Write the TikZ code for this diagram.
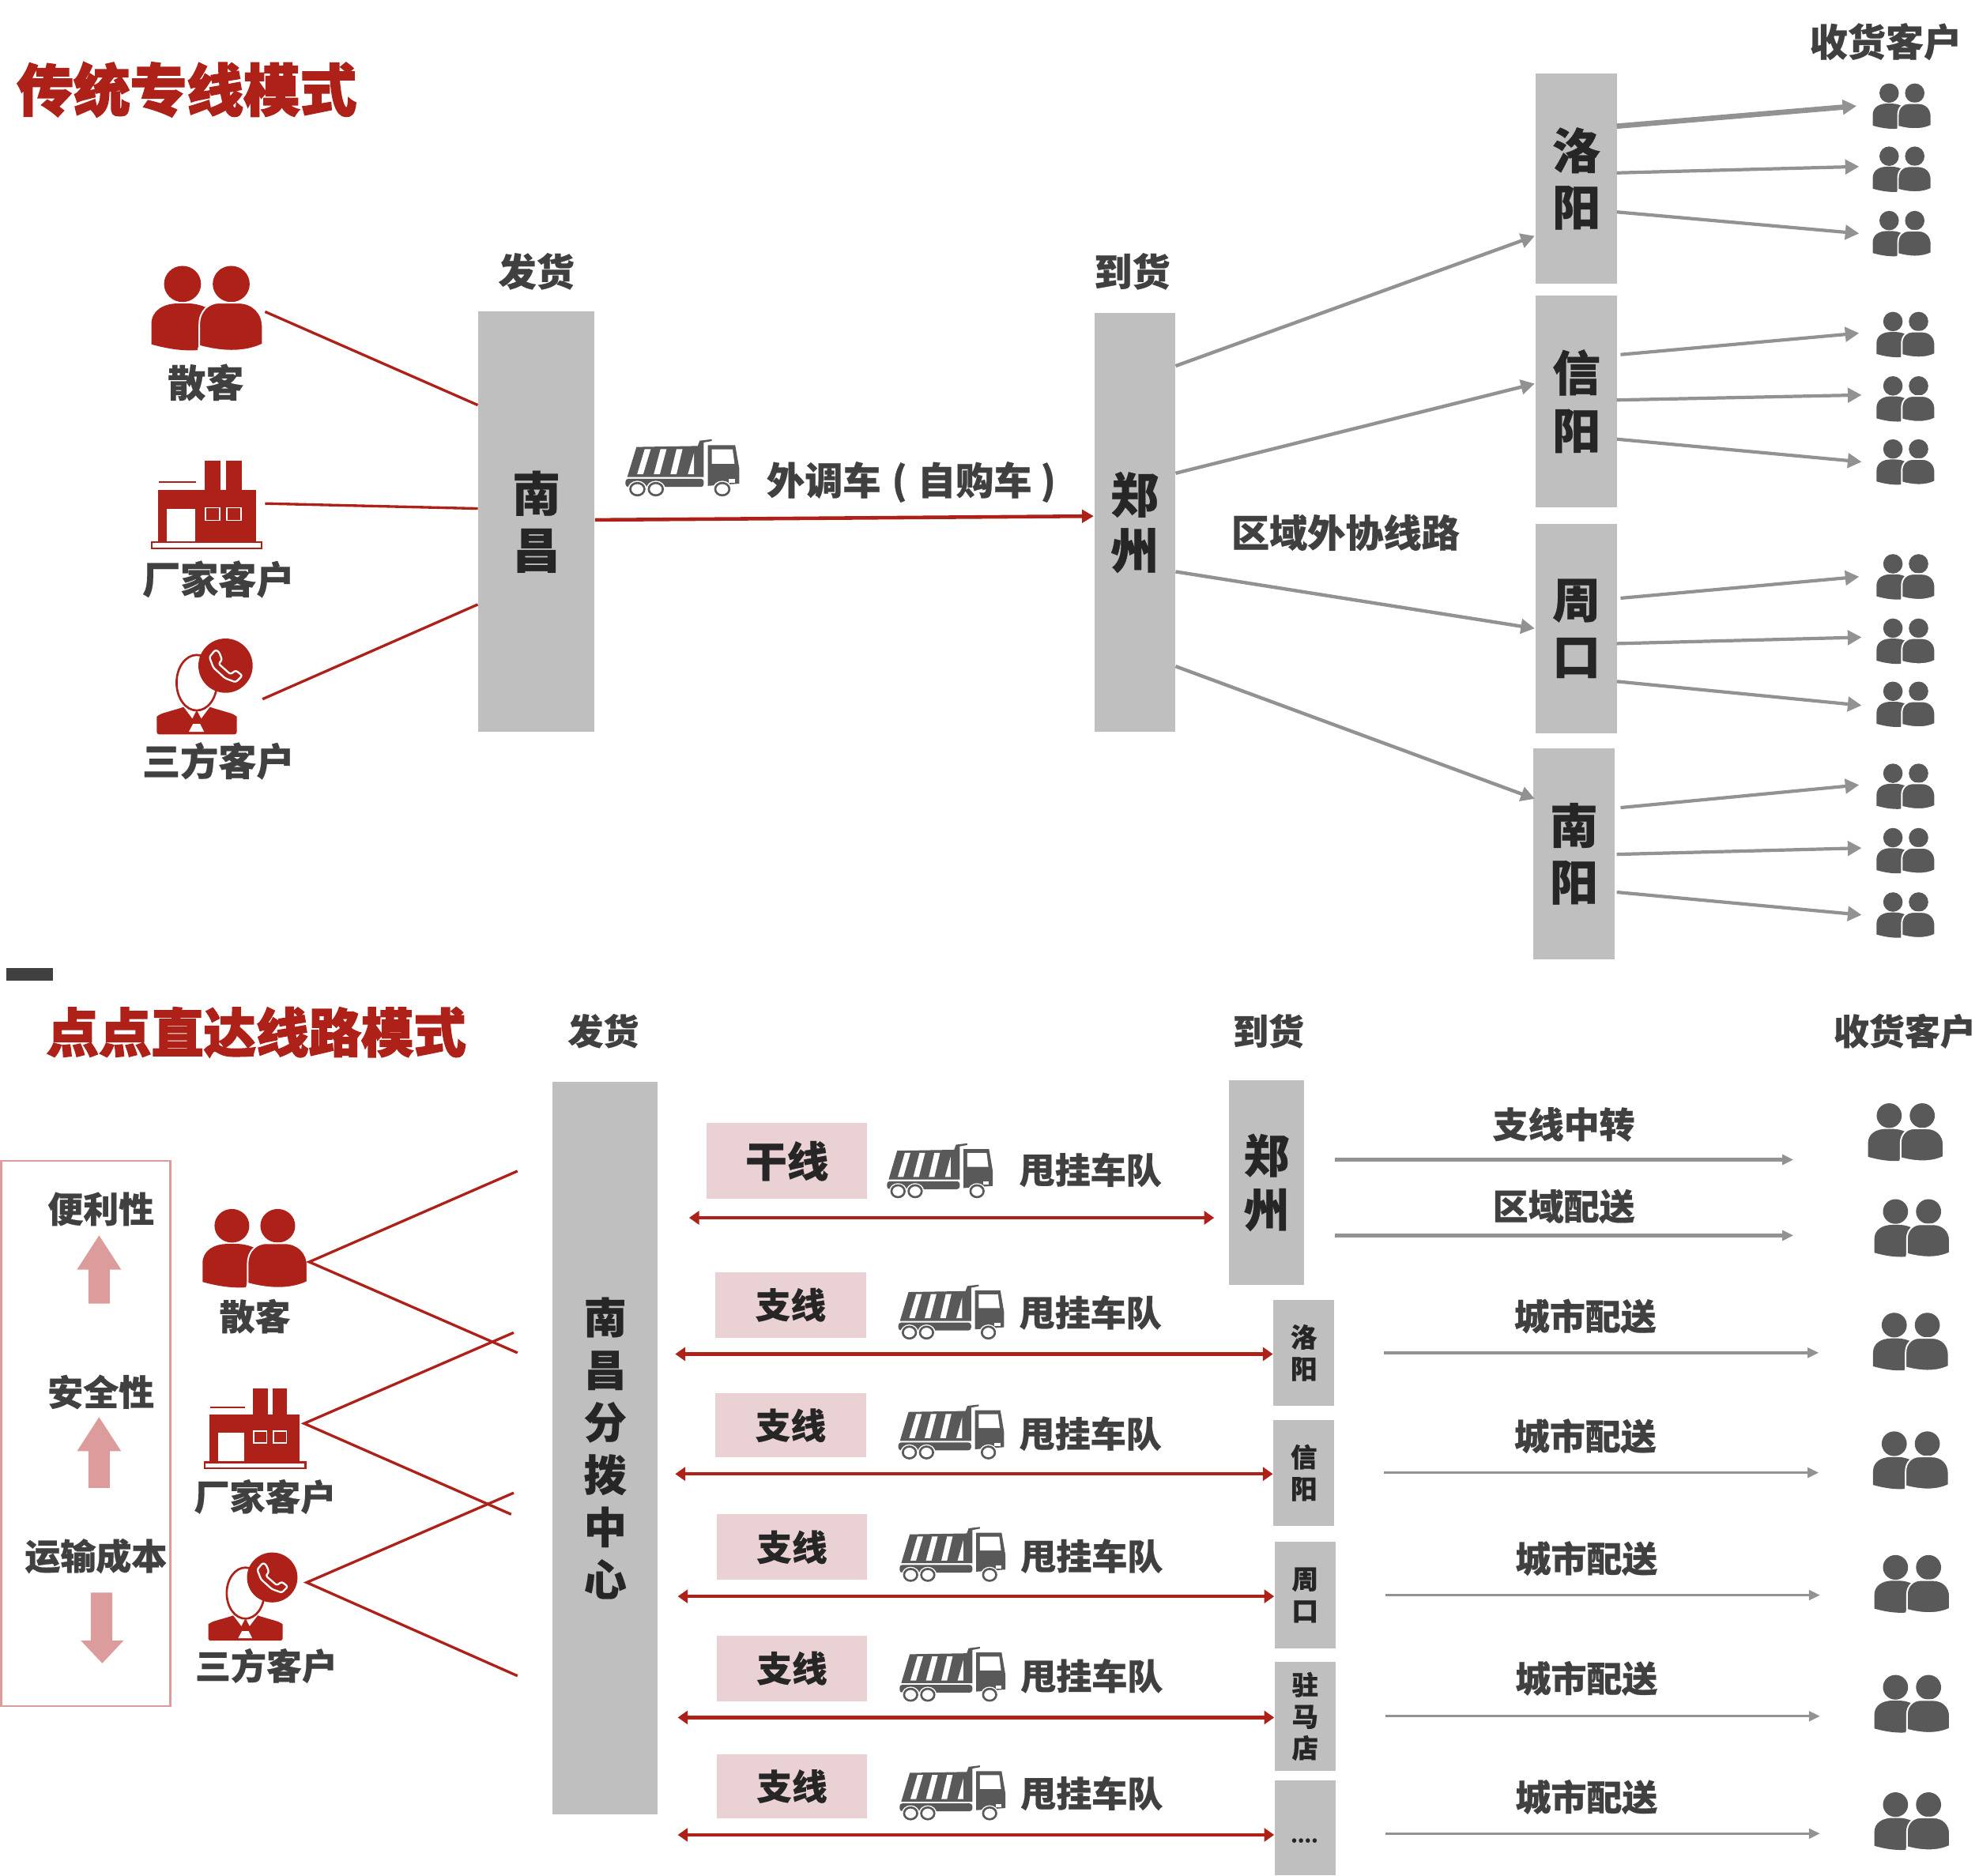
\documentclass[tikz,border=0pt]{standalone}
\usepackage{fontspec}
\setmainfont{Noto Sans CJK SC}[BoldFeatures={FakeBold=0.5}]
\newfontfamily\heavyfont{Noto Sans CJK SC}[BoldFeatures={FakeBold=2.2}]
\usetikzlibrary{arrows.meta,calc}
\definecolor{iconred}{HTML}{AE2118}
\definecolor{ink}{HTML}{404040}
\definecolor{boxink}{HTML}{262626}
\definecolor{boxgray}{HTML}{BFBFBF}
\definecolor{icongray}{HTML}{595959}
\definecolor{arrowgray}{HTML}{929292}
\definecolor{softpink}{HTML}{EAD2D4}
\definecolor{arrowpink}{HTML}{DC9C9C}
\tikzset{
  lab/.style={inner sep=0pt,text=ink,font=\fontsize{#1pt}{#1pt}\bfseries\selectfont},
  headline/.style={inner sep=0pt,text=iconred,font=\heavyfont\fontsize{#1pt}{#1pt}\bfseries\selectfont},
  cityf/.style n args={2}{font=\fontsize{#1pt}{#2pt}\bfseries\selectfont},
  redline/.style={draw=iconred,line width=0.95pt},
  redmain/.style={draw=iconred,line width=1.3pt,-{Triangle[length=4.2pt,width=4.6pt]}},
  reddouble/.style={draw=iconred,line width=1.2pt,{Triangle[length=3.6pt,width=4.8pt]}-{Triangle[length=3.6pt,width=4.8pt]}},
  grayarrow/.style={draw=arrowgray,line width=#1,-{Triangle[length=5pt,width=5.2pt]}},
  routearrow/.style={draw=arrowgray,line width=#1,-{Triangle[length=4pt,width=3.6pt]}},
  pinkarrow/.style={fill=arrowpink,draw=none},
  people/.pic={
    \fill[#1] (-10.2,-10.2) circle (7.7);
    \fill[#1] (10.1,-10.2) circle (7.7);
    \fill[#1] (-23.2,15.5) -- (-23.2,7) .. controls (-23.2,1) and (-18,-1.9) .. (-12,-1.9)
      -- (-8,-1.9) .. controls (-5,-1.9) and (-2,-1) .. (0,0) -- (-4,18) .. controls (-11,18.5) and (-18,17) .. (-23.2,15.5) -- cycle;
    \filldraw[fill=#1,draw=white,line width=0.55pt] (-3.2,16.2) -- (-3.2,7) .. controls (-3.2,1) and (1,-2.2) .. (5,-2.2)
      -- (13,-2.2) .. controls (19,-2.2) and (23.2,2) .. (23.2,8) -- (23.2,15.5) .. controls (15,19.5) and (5,18.5) .. (-3.2,16.2) -- cycle;
  },
  factory/.pic={
    \fill[iconred] (-39,-13.7) rectangle (38.7,33.5);
    \fill[iconred] (-1.6,-40) rectangle (10.9,-13.7);
    \fill[iconred] (15.3,-40) rectangle (27.5,-13.7);
    \draw[iconred,line width=0.6pt] (-38.3,-20.8) -- (-8.6,-20.8);
    \fill[white] (-31.6,3.8) rectangle (-9.3,33.5);
    \filldraw[fill=iconred,draw=white,line width=0.5pt] (-1.3,2.6) rectangle (10.2,14.1);
    \filldraw[fill=iconred,draw=white,line width=0.5pt] (15.7,2.6) rectangle (27.2,14.1);
    \filldraw[fill=white,draw=iconred,line width=0.6pt] (-43.5,33.5) rectangle (43.5,39.5);
  },
  caller/.pic={
    \fill[iconred,rounded corners=0.8pt] (-31.7,39.2) -- (-31.7,27) .. controls (-31.7,25) and (-30,24) .. (-28.5,23) -- (-12.9,18.4) -- (0,14) -- (12.9,18.4) -- (28.5,23)
       .. controls (30,24) and (31.7,25) .. (31.7,27) -- (31.7,39.2) -- cycle;
    \fill[white] (-11,16.7) -- (-3.5,26.7) -- (-0.6,21) -- (0.6,21) -- (3.5,26.7) -- (11,16.7) -- cycle;
    \fill[white] (-3,31) -- (2.7,31) -- (5.8,37.2) -- (-6.3,37.2) -- cycle;
    \filldraw[fill=white,draw=iconred,line width=0.76pt] (0,-1.7) ellipse (16 and 22);
    \fill[iconred] (22.8,-15.2) circle (21.5);
    \draw[white,line width=0.66pt,line join=round,rounded corners=0.7pt]
      (10,-22) -- (14.8,-27.8) -- (17.7,-26.1) -- (20,-19.8) -- (17.3,-16.7) -- (26.7,-8.4) -- (30.9,-11.5) -- (36.1,-7.3) -- (30.9,-2.1) -- (22.5,-5.2) -- (13.2,-13.6) -- cycle;
  },
  truck/.pic={
    \fill[icongray] (-36.7,-19.2) -- (11.8,-20.1) -- (13.4,-24.9) -- (23,-26.2) -- (23,-24.6) -- (16.6,-23.3) -- (16.6,8) -- (-44,8) -- cycle;
    \fill[white] (-30.2,-17.2) -- (-25.4,-17.2) -- (-31.4,5.5) -- (-36.2,5.5) -- cycle;
    \fill[white] (-17.7,-17.2) -- (-12.9,-17.2) -- (-18.2,5.5) -- (-23,5.5) -- cycle;
    \fill[white] (-5,-17.2) -- (-0.2,-17.2) -- (-5,5.5) -- (-9.8,5.5) -- cycle;
    \fill[white] (8.9,-13.8) -- (8.9,5.5) -- (4,5.5) -- cycle;
    \fill[icongray,rounded corners=1pt] (-45.4,9.6) rectangle (16.6,17);
    \fill[icongray] (19.8,-20.8) -- (41.5,-20.8) -- (44.7,0) -- (44.7,14) -- (19.8,16) -- cycle;
    \fill[white] (23,-17) -- (39.5,-17) -- (41,-4) -- (23,-4) -- cycle;
    \fill[white] (36.5,10) rectangle (41.5,13);
    \foreach \wx in {-36,-21.4,31.3} {
      \fill[white] (\wx,19) circle (7.6);
      \filldraw[fill=white,draw=icongray,line width=0.75pt] (\wx,19) circle (5.6);
    }
  },
}
% name, x0, y0, x1, y1, fill, text style, text
\newcommand\areabox[8]{%
  \pgfmathsetmacro\bw{(#4-#2)*0.01597}\pgfmathsetmacro\bh{(#5-#3)*0.01597}%
  \node[fill=#6,inner sep=0pt,minimum width=\bw cm,minimum height=\bh cm,align=center,text=boxink,#7] (#1) at ({(#2+#4)/2},{(#3+#5)/2}) {#8};}
\begin{document}
\begin{tikzpicture}[x=0.01597cm,y=-0.01597cm]
\useasboundingbox (0,0) rectangle (1568,1486.6);

% ---------- upper diagram ----------
\node[headline=20.4] (title1) at (148,71) {传统专线模式};
\node[lab=13.7] (send1) at (425,215) {发货};
\node[lab=13.7] (recv1) at (897,215) {到货};
\node[lab=13.7] (cust1) at (1494,33) {收货客户};

\areabox{nc}{379}{247}{471}{580}{boxgray}{cityf={17.3}{20.4}}{南\\昌}
\areabox{zz}{867}{248}{931}{580}{boxgray}{cityf={17.3}{20}}{郑\\州}
\areabox{ly}{1217}{58}{1281}{225}{boxgray}{cityf={17.3}{20.4}}{洛\\阳}
\areabox{xy}{1217}{234}{1281}{402}{boxgray}{cityf={17.3}{20.8}}{信\\阳}
\areabox{zk}{1217}{415}{1281}{581}{boxgray}{cityf={17.3}{20.4}}{周\\口}
\areabox{ny}{1215}{593}{1279}{760}{boxgray}{cityf={17.3}{20.4}}{南\\阳}

\pic[xscale=1.9,yscale=1.86] at (164,244) {people=iconred};
\node[lab=13.7] (sk1) at (163,303) {散客};
\pic[yscale=.875] at (164,400) {factory};
\node[lab=13.7] (cj1) at (173,459) {厂家客户};
\pic at (155.9,542.7) {caller};
\node[lab=13.7] (sf1) at (173,603) {三方客户};
\coordinate (skend1) at (210,247);
\coordinate (cjend1) at (210,399);
\coordinate (sfend1) at (208,554);
\draw[redline] (skend1) -- (nc.west |- 0,321);
\draw[redline] (cjend1) -- (nc.west |- 0,403);
\draw[redline] (sfend1) -- (nc.west |- 0,479);

\pic[yscale=.875] at (541,371) {truck};
\node[lab=13.7,anchor=west] (wd) at (607,382) {外调车\hspace{4pt}(\hspace{3.8pt}自购车\hspace{3.2pt})};
\draw[redmain] (nc.east |- 0,412) -- (zz.west |- 0,409);
\node[lab=13.7] (qy) at (1066,422) {区域外协线路};

\foreach \b/\s/\t in {ly/290/187,xy/375/304,zk/453/498,ny/528/633}{
  \coordinate (tip) at (1216,\t);
  \draw[grayarrow=1.25pt] (zz.east |- 0,\s) -- (tip);
}
\foreach \b/\sx/\sy/\tx/\ty/\w in {
  ly/1281/100/1471/84/1.9,ly/1281/137/1473/132/1.2,ly/1281/168/1473/185/1.2,
  xy/1284/281/1473/264/1.2,xy/1281/317/1475/313/1.2,xy/1281/348/1475/366/1.2,
  zk/1284/474/1473/457/1.2,zk/1281/510/1475/505/1.2,zk/1281/540/1475/559/1.2,
  ny/1284/640/1473/622/1.2,ny/1281/677/1475/672/1.2,ny/1281/707/1475/725/1.2}{
  \coordinate (tip) at (\tx,\ty);
  \coordinate (tail) at (\sx,\sy);
  \draw[grayarrow=\w pt] (tail) -- (tip);
}
\foreach \ix/\iy in {1507/84,1507/134,1507/185,1510/265,1510/316,1510/366,1510/457,1510/508,1510/558,1510/623,1510/674,1510/725}{
  \pic at (\ix,\iy) {people=icongray};
}

% ---------- separator ----------
\fill[ink] (5,767) rectangle (42,777);

% ---------- lower diagram ----------
\node[headline=18.9] (title2) at (203,818) {点点直达线路模式};
\node[lab=12.8] (send2) at (478,817) {发货};
\node[lab=12.8] (recv2) at (1005,817) {到货};
\node[lab=12.8] (cust2) at (1509,817) {收货客户};

\node[draw=arrowpink,line width=0.7pt,minimum width=134*0.01597cm,minimum height=432*0.01597cm,inner sep=0pt] (panel) at (68,1136) {};
\node[lab=12.8] (bl) at (80,958) {便利性};
\node[lab=12.8] (aq) at (80,1103) {安全性};
\node[lab=12.8] (ys) at (76,1233) {运输成本};
\fill[pinkarrow] (78.5,979) -- (96,1006) -- (87,1006) -- (87,1033) -- (70,1033) -- (70,1006) -- (61,1006) -- cycle;
\fill[pinkarrow] (78.5,1123) -- (96,1150) -- (87,1150) -- (87,1179) -- (70,1179) -- (70,1150) -- (61,1150) -- cycle;
\fill[pinkarrow] (72,1262) -- (89,1262) -- (89,1300) -- (98,1300) -- (81,1318) -- (64,1300) -- (72,1300) -- cycle;

\pic[xscale=1.79,yscale=1.73] at (202,989) {people=iconred};
\node[lab=12.8] (sk2) at (202,1043) {散客};
\pic[xscale=.92,yscale=.8] at (202,1132) {factory};
\node[lab=12.8] (cj2) at (210,1186) {厂家客户};
\pic[xscale=.93,yscale=.92] at (194.5,1264) {caller};
\node[lab=12.8] (sf2) at (211,1320) {三方客户};

\coordinate (skv) at (245,1000);
\coordinate (sk2a) at (410,928);
\coordinate (sk2b) at (410,1072);
\coordinate (cjv) at (241,1128);
\coordinate (cj2a) at (407,1056);
\coordinate (cj2b) at (405,1200);
\coordinate (sfv) at (243,1254);
\coordinate (sf2a) at (407,1183);
\coordinate (sf2b) at (410,1328);
\draw[redline] (sk2a) -- (skv) -- (sk2b);
\draw[redline] (cj2a) -- (cjv) -- (cj2b);
\draw[redline] (sf2a) -- (sfv) -- (sf2b);

\areabox{hub}{438}{857}{521}{1438}{boxgray}{cityf={15.4}{18.9}}{南\\昌\\分\\拨\\中\\心}
\areabox{zz2}{974}{856}{1033}{1018}{boxgray}{cityf={16.4}{19.5}}{郑\\州}
\areabox{ly2}{1009}{1030}{1057}{1114}{boxgray}{cityf={9.5}{11.4}}{洛\\阳}
\areabox{xy2}{1009}{1125}{1057}{1209}{boxgray}{cityf={9.5}{11.4}}{信\\阳}
\areabox{zk2}{1010}{1222}{1058}{1306}{boxgray}{cityf={9.5}{11.4}}{周\\口}
\areabox{zmd}{1010}{1317}{1058}{1403}{boxgray}{cityf={9.5}{11.4}}{驻\\马\\店}
\areabox{more}{1010}{1411}{1058}{1486}{boxgray}{}{}
\node[inner sep=0pt,text=boxink,cityf={7}{7}] (moredots) at (1033.5,1458.5) {....};

\areabox{gx}{560}{890}{687}{950}{softpink}{cityf={15}{15}}{干线}
\areabox{zx1}{567}{1008}{686}{1060}{softpink}{cityf={12.7}{12.7}}{支线}
\areabox{zx2}{567}{1104}{686}{1155}{softpink}{cityf={12.7}{12.7}}{支线}
\areabox{zx3}{568}{1200}{687}{1252}{softpink}{cityf={12.7}{12.7}}{支线}
\areabox{zx4}{568}{1296}{687}{1348}{softpink}{cityf={12.7}{12.7}}{支线}
\areabox{zx5}{568}{1390}{687}{1441}{softpink}{cityf={12.7}{12.7}}{支线}

\foreach \n/\tx/\ty/\lx/\ly in {a/745/928/864/927,b/754/1040/864/1040,c/754/1135/864/1136,d/755/1232/865/1233,e/755/1327/865/1328,f/755/1421/865/1421}{
  \pic[xscale=.93,yscale=.84] at (\tx,\ty) {truck};
  \node[lab=12.8] (fleet\n) at (\lx,\ly) {甩挂车队};
}

\coordinate (dl0) at (546,965);
\coordinate (dr0) at (962,965);
\draw[reddouble] (dl0) -- (dr0);
\coordinate (dl1) at (535,1073);
\coordinate (dl2) at (535,1168);
\coordinate (dl3) at (537,1265);
\coordinate (dl4) at (537,1361);
\coordinate (dl5) at (537,1454);
\draw[reddouble] (dl1) -- (ly2.west |- dl1);
\draw[reddouble] (dl2) -- (xy2.west |- dl2);
\draw[reddouble] (dl3) -- (zk2.west |- dl3);
\draw[reddouble] (dl4) -- (zmd.west |- dl4);
\draw[reddouble] (dl5) -- (more.west |- dl5);

\node[lab=12.8] (zxzz) at (1239,891) {支线中转};
\node[lab=12.8] (qypc) at (1239,956) {区域配送};
\coordinate (ra) at (1421,919);
\coordinate (rb) at (1421,979);
\draw[routearrow=1.4pt] (zz2.east |- 0,919) ++(24,0) -- (ra);
\draw[routearrow=1.4pt] (zz2.east |- 0,979) ++(24,0) -- (rb);

\foreach \b/\lx/\ly/\ay/\ax in {ly2/1256/1043/1072/1441,xy2/1256/1138/1167/1441,zk2/1257/1235/1264/1442,zmd/1257/1330/1360/1442,more/1257/1424/1453/1442}{
  \node[lab=12.8] (city\b) at (\lx,\ly) {城市配送};
  \coordinate (rt) at (\ax,\ay);
  \draw[routearrow=0.9pt] (\b.east |- rt) ++(39,0) -- (rt);
}
\foreach \ix/\iy in {1510/897,1515/973,1514/1063,1514/1157,1515/1255,1515/1350,1515/1443}{
  \pic[xscale=1.29,yscale=1.27] at (\ix,\iy) {people=icongray};
}
\end{tikzpicture}
\end{document}
